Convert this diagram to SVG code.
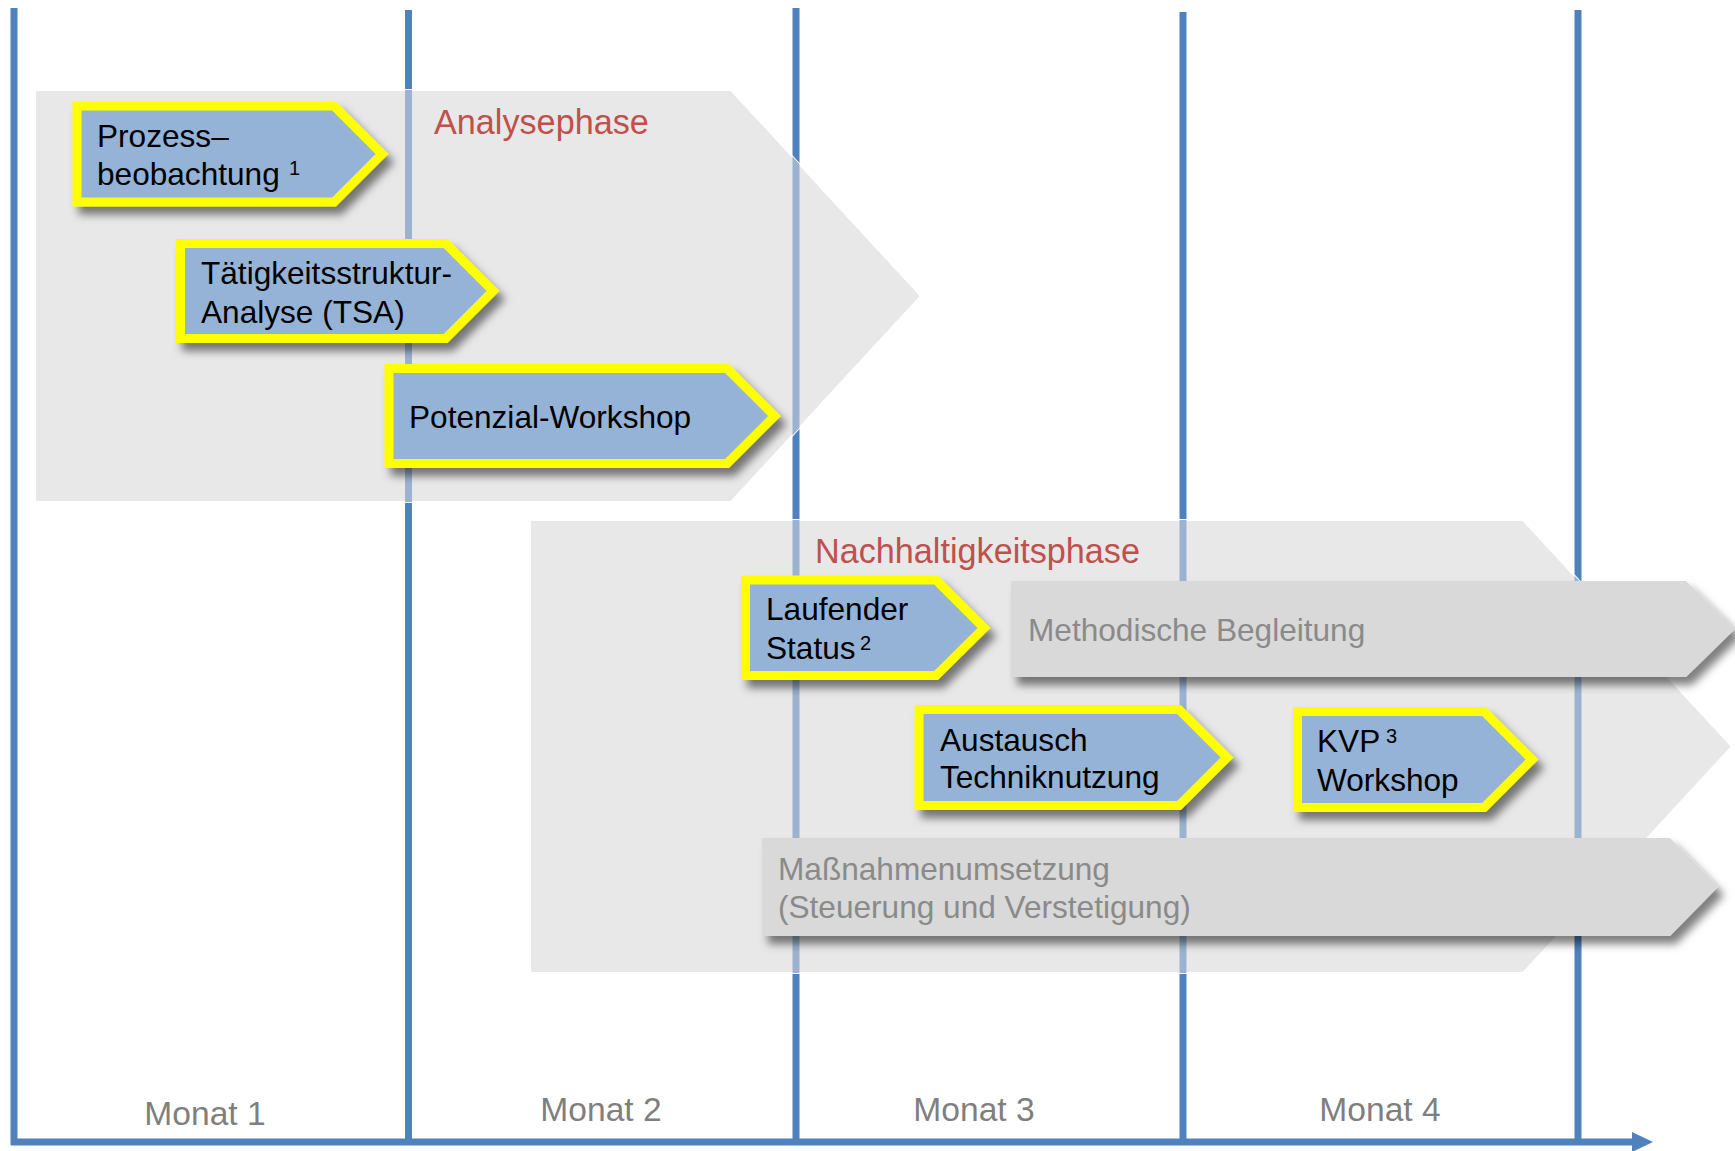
<svg xmlns="http://www.w3.org/2000/svg" xmlns:xlink="http://www.w3.org/1999/xlink" width="1735" height="1151" viewBox="0 0 1735 1151">
<style>
.grid{stroke:#4F81BD;stroke-width:7;fill:none}
.gridl{stroke:#9BB3D0;stroke-width:7;fill:none}
.bg{fill:#E8E8E8;stroke:#FFFFFF;stroke-width:2}
.node{fill:#95B3D7;stroke:#FFFF00;stroke-width:9;stroke-linejoin:miter}
.gray{fill:#D9D9D9}
.t{font-family:"Liberation Sans",Arial,sans-serif;font-size:31.6px;fill:#000}
.sup{font-family:"Liberation Sans",Arial,sans-serif;font-size:20px;fill:#000}
.gt{font-family:"Liberation Sans",Arial,sans-serif;font-size:31.6px;fill:#8A8A8A}
.ph{font-family:"Liberation Sans",Arial,sans-serif;font-size:34.2px;fill:#C0504D}
.m{font-family:"Liberation Sans",Arial,sans-serif;font-size:33.6px;fill:#7F7F7F;text-anchor:middle}
</style>
<defs>
<filter id="sh" x="-10%" y="-20%" width="130%" height="150%">
<feDropShadow dx="6" dy="8" stdDeviation="4" flood-color="#000" flood-opacity="0.5"/>
</filter>
<path id="bgA" d="M35,90 H731 L921,296 L731,502 H35 Z"/>
<path id="bgN" d="M530,520 H1523 L1732,746.5 L1523,973 H530 Z"/>
<clipPath id="clipA"><use xlink:href="#bgA"/></clipPath>
<clipPath id="clipN"><use xlink:href="#bgN"/></clipPath>
</defs>
<rect width="1735" height="1151" fill="#FFFFFF"/>
<g id="timeline">
<line class="grid" x1="14" y1="8" x2="14" y2="1145"/>
<line class="grid" x1="408.5" y1="10" x2="408.5" y2="1145"/>
<line class="grid" x1="796" y1="8" x2="796" y2="1145"/>
<line class="grid" x1="1183" y1="12" x2="1183" y2="1145"/>
<line class="grid" x1="1578" y1="10" x2="1578" y2="1145"/>
</g>
<g id="phase-analyse">
<use xlink:href="#bgA" class="bg"/>
<g clip-path="url(#clipA)">
<line class="gridl" x1="408.5" y1="0" x2="408.5" y2="1151"/>
<line class="gridl" x1="796" y1="0" x2="796" y2="1151"/>
</g>
<text class="ph" x="434" y="134">Analysephase</text>
</g>
<g id="phase-nachhaltigkeit">
<use xlink:href="#bgN" class="bg"/>
<g clip-path="url(#clipN)">
<line class="gridl" x1="796" y1="0" x2="796" y2="1151"/>
<line class="gridl" x1="1183" y1="0" x2="1183" y2="1151"/>
<line class="gridl" x1="1578" y1="0" x2="1578" y2="1151"/>
</g>
<text class="ph" x="815" y="563">Nachhaltigkeitsphase</text>
</g>
<g id="axis">
<line class="grid" x1="11" y1="1142" x2="1636" y2="1142"/>
<polygon points="1632,1132 1653,1142 1632,1152" fill="#4F81BD"/>
</g>
<g id="prozessbeobachtung">
<polygon class="node" filter="url(#sh)" points="77,106 334,106 382,154 334,202 77,202"/>
<text class="t" x="97" y="147">Prozess–</text>
<text class="t" x="97" y="185">beobachtung</text>
<text class="sup" x="289" y="175">1</text>
</g>
<g id="tsa">
<polygon class="node" filter="url(#sh)" points="180.5,243.5 445.5,243.5 493,291 445.5,338.5 180.5,338.5"/>
<text class="t" x="201" y="284">Tätigkeitsstruktur-</text>
<text class="t" x="201" y="323">Analyse (TSA)</text>
</g>
<g id="potenzial-workshop">
<polygon class="node" filter="url(#sh)" points="389,368.5 727,368.5 774.5,416 727,463.5 389,463.5"/>
<text class="t" x="409" y="428">Potenzial-Workshop</text>
</g>
<g id="methodische-begleitung">
<path class="gray" filter="url(#sh)" d="M1011,581 H1686 L1735,629 L1686,677 H1011 Z"/>
<text class="gt" x="1028" y="641">Methodische Begleitung</text>
</g>
<g id="massnahmenumsetzung">
<path class="gray" filter="url(#sh)" d="M762,838 H1670 L1718,887 L1670,936 H762 Z"/>
<text class="gt" x="778" y="880">Maßnahmenumsetzung</text>
<text class="gt" x="778" y="918">(Steuerung und Verstetigung)</text>
</g>
<g id="laufender-status">
<polygon class="node" filter="url(#sh)" points="745.5,580 936,580 984,628 936,675.5 745.5,675.5"/>
<text class="t" x="766" y="620">Laufender</text>
<text class="t" x="766" y="659">Status</text>
<text class="sup" x="860" y="650">2</text>
</g>
<g id="austausch">
<polygon class="node" filter="url(#sh)" points="919,709.5 1179,709.5 1227,757.5 1179,805.5 919,805.5"/>
<text class="t" x="940" y="751">Austausch</text>
<text class="t" x="940" y="788">Techniknutzung</text>
</g>
<g id="kvp-workshop">
<polygon class="node" filter="url(#sh)" points="1297.5,711.5 1484,711.5 1532,759.5 1484,807.5 1297.5,807.5"/>
<text class="t" x="1317" y="752">KVP</text>
<text class="sup" x="1386" y="743">3</text>
<text class="t" x="1317" y="791">Workshop</text>
</g>
<g id="months">
<text class="m" x="205" y="1125">Monat 1</text>
<text class="m" x="601" y="1121">Monat 2</text>
<text class="m" x="974" y="1121">Monat 3</text>
<text class="m" x="1380" y="1121">Monat 4</text>
</g>
</svg>
